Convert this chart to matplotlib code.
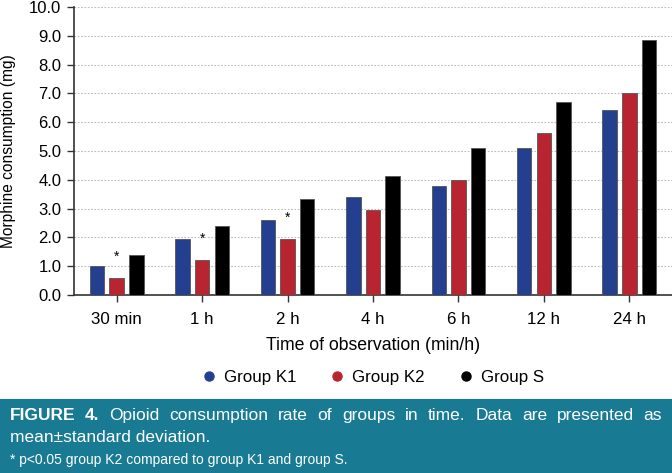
import matplotlib
matplotlib.use("Agg")
from matplotlib import pyplot as plt
from matplotlib.lines import Line2D
from matplotlib.patches import Rectangle
import numpy as np

plt.rcParams['font.family'] = ['Liberation Sans', 'DejaVu Sans']

# data
times = ['30 min', '1 h', '2 h', '4 h', '6 h', '12 h', '24 h']
group_k1 = [1.0, 1.93, 2.6, 3.41, 3.78, 5.1, 6.41]
group_k2 = [0.6, 1.2, 1.93, 2.95, 4.0, 5.63, 7.0]
group_s = [1.38, 2.41, 3.34, 4.14, 5.1, 6.69, 8.84]
signif = [True, True, True, False, False, False, False]  # * on group K2

groups = ['Group K1', 'Group K2', 'Group S']
colors = ['#243f8f', '#b82530', '#000000']

fig = plt.figure(figsize=(6.72, 4.73), dpi=100)
ax = fig.add_axes([74 / 672, 1 - 295 / 473, 1 - 74 / 672, 288 / 473])

x = np.arange(len(times))
w = 0.17
step = 0.23
for i, vals in enumerate([group_k1, group_k2, group_s]):
    ax.bar(x + (i - 1) * step, vals, width=w, color=colors[i],
           edgecolor='#555555', linewidth=0.6, zorder=3)

for xi, v, s in zip(x, group_k2, signif):
    if s:
        ax.text(xi, v + 0.5, '*', ha='center', va='bottom', fontsize=10, zorder=4)

ax.set_xlim(-0.5, 6.5)
ax.set_ylim(0, 10)
ax.set_yticks(np.arange(0, 10.1, 1.0))
ax.set_yticklabels(['%.1f' % t for t in np.arange(0, 10.1, 1.0)], fontsize=12)
ax.set_xticks(x)
ax.set_xticklabels(times, fontsize=12.2)
ax.tick_params(axis='both', length=5, width=1, color='#333333', pad=4)
ax.tick_params(axis='x', pad=7)
ax.yaxis.grid(True, linestyle=(0, (1.5, 1.5)), color='#bbbbbb', linewidth=0.8, zorder=0)
for sp in ['top', 'right']:
    ax.spines[sp].set_visible(False)
for sp in ['left', 'bottom']:
    ax.spines[sp].set_color('#333333')
    ax.spines[sp].set_linewidth(1.2)
ax.set_ylabel('Morphine consumption (mg)', fontsize=11.2)
ax.yaxis.set_label_coords(-58 / 598, 0.5)

fig.text(373 / 672, 1 - 346 / 473, 'Time of observation (min/h)', ha='center', va='center', fontsize=12.7)

handles = [Line2D([], [], marker='o', linestyle='none', color=c, markersize=6.5) for c in colors]
fig.legend(handles, groups, loc='center', bbox_to_anchor=(368 / 672, 1 - 377 / 473),
           ncol=3, frameon=False, fontsize=12.2, handletextpad=-0.1, columnspacing=1.4)

# caption box
fig.patches.append(Rectangle((0, 0), 1, 74 / 473, transform=fig.transFigure,
                             facecolor='#187b93', edgecolor='none', zorder=0))

# justified first line of caption
words = [('FIGURE', 'bold'), ('4.', 'bold'), ('Opioid', 'normal'), ('consumption', 'normal'),
         ('rate', 'normal'), ('of', 'normal'), ('groups', 'normal'), ('in', 'normal'),
         ('time.', 'normal'), ('Data', 'normal'), ('are', 'normal'), ('presented', 'normal'),
         ('as', 'normal')]
y1 = 1 - 415 / 473
left, right = 10, 662
fig.canvas.draw()
r = fig.canvas.get_renderer()
objs = [fig.text(0, y1, t, ha='left', va='center', fontsize=12.5, color='white', fontweight=fw)
        for t, fw in words]
widths = [o.get_window_extent(r).width for o in objs]
gap = (right - left - sum(widths)) / (len(words) - 1)
pos = left
for o, wd in zip(objs, widths):
    o.set_x(pos / 672)
    pos += wd + gap

fig.text(10 / 672, 1 - 437 / 473, 'mean±standard deviation.', ha='left', va='center',
         fontsize=12.5, color='white')
fig.text(10 / 672, 1 - 460 / 473, '* p<0.05 group K2 compared to group K1 and group S.',
         ha='left', va='center', fontsize=10, color='white')

fig.savefig('out.png', dpi=100)
